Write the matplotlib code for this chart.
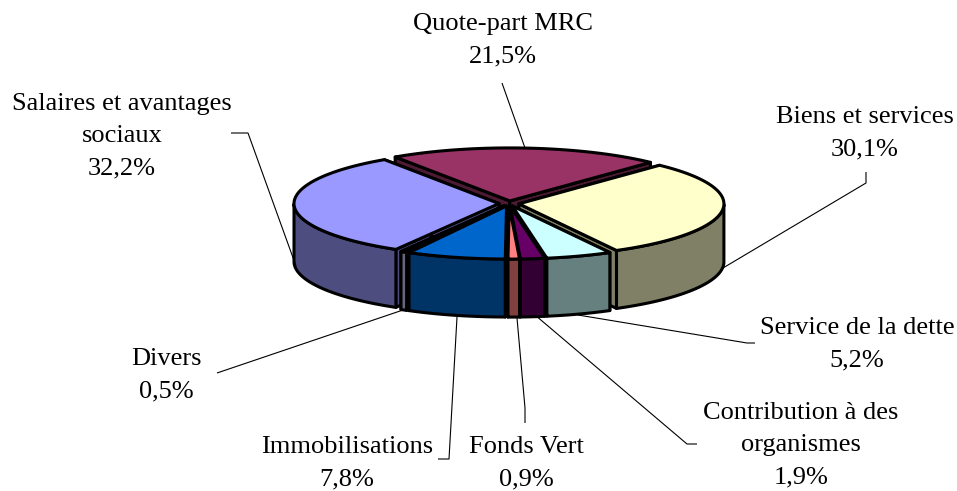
import numpy as np
import matplotlib
matplotlib.use("Agg")
import matplotlib.pyplot as plt
from matplotlib.patches import Polygon

plt.rcParams["font.family"] = ["Liberation Serif", "DejaVu Serif"]

names = ["Quote-part MRC", "Biens et services", "Service de la dette",
         "Contribution à des\norganismes", "Fonds Vert", "Immobilisations",
         "Divers", "Salaires et avantages\nsociaux"]
values = [21.5, 30.1, 5.2, 1.9, 0.9, 7.8, 0.5, 32.2]
top_colors = ["#993366", "#FFFFCC", "#CCFFFF", "#660066",
              "#FF8080", "#0066CC", "#CCCCFF", "#9999FF"]
side_colors = ["#4D1A33", "#808066", "#668080", "#330033",
               "#804040", "#003366", "#666680", "#4D4D80"]

# label centres, in pixels of the picture
label_pos = [(503, 40), (865, 133), (857, 344), (801, 445), (526, 463),
             (347, 463), (166, 375), (122, 136)]
# leader lines, label end first
leaders = [
    [(502, 83), (525, 148)],
    [(866, 172), (866, 183), (723, 268)],
    [(755, 343), (747, 343), (578, 315)],
    [(697, 444), (687, 444), (535, 315)],
    [(525, 423), (525, 408), (517, 318)],
    [(438, 459), (449, 459), (457, 317)],
    [(217, 373), (403, 310)],
    [(231, 133), (248, 133), (296, 266)],
]

CX, CY = 509, 203.5
RX, RY = 205, 53
DEPTH = 58
EXPLODE = 10
START = -34
LW = 2.2


def point(t, r=1.0, dx=0.0, dy=0.0):
    """t in degrees, clockwise from the back of the pie."""
    a = np.radians(t)
    return CX + dx + r * RX * np.sin(a), CY + dy - r * RY * np.cos(a)


def draw_slice(ax, t0, t1, top, side):
    mid = (t0 + t1) / 2
    dx = EXPLODE * np.sin(np.radians(mid))
    dy = EXPLODE * RY / RX * np.cos(np.radians(mid)) * -1
    apex = (CX + dx, CY + dy)
    arc_t = np.linspace(t0, t1, 120)
    arc = [point(t, 1.0, dx, dy) for t in arc_t]

    # cut faces first, then the round wall, then the top
    for p in (arc[0], arc[-1]):
        wall = [apex, p, (p[0], p[1] + DEPTH), (apex[0], apex[1] + DEPTH)]
        ax.add_patch(Polygon(wall, fc=side, ec="black", lw=LW, joinstyle="round"))

    front = [p for t, p in zip(arc_t, arc) if 90 <= t <= 270]
    if len(front) > 1:
        down = [(x, y + DEPTH) for x, y in front[::-1]]
        ax.add_patch(Polygon(front + down, fc=side, ec="black", lw=LW, joinstyle="round"))

    ax.add_patch(Polygon([apex] + arc, fc=top, ec="black", lw=LW, joinstyle="round"))


fig = plt.figure(figsize=(9.57, 4.91), dpi=100)
ax = fig.add_axes([0, 0, 1, 1])
ax.set_xlim(0, 957)
ax.set_ylim(491, 0)
ax.axis("off")

total = sum(values)
edges = START + np.cumsum([0] + values) / total * 360
slices = list(zip(edges[:-1], edges[1:], top_colors, side_colors))
# back slices first so the front ones cover them
slices.sort(key=lambda s: -np.cos(np.radians((s[0] + s[1]) / 2)))

for line in leaders:
    xs, ys = zip(*line)
    ax.plot(xs, ys, color="black", lw=0.8, solid_capstyle="butt")

for t0, t1, top, side in slices:
    draw_slice(ax, t0, t1, top, side)

for name, v, (x, y) in zip(names, values, label_pos):
    txt = name + "\n" + f"{v:.1f}%".replace(".", ",")
    ax.text(x, y, txt, ha="center", va="center", fontsize=19, linespacing=1.6, color="black")

fig.savefig("out.png", dpi=100)
